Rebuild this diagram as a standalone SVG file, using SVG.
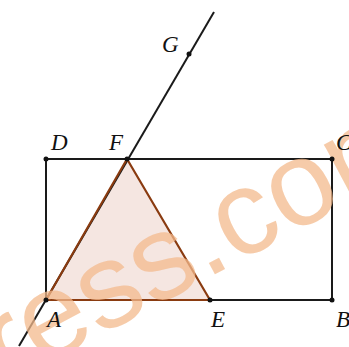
<svg xmlns="http://www.w3.org/2000/svg" width="349" height="347" viewBox="0 0 349 347">
<style>
.lbl{font-family:"Liberation Serif","DejaVu Serif",serif;font-style:italic;font-size:23px;fill:#111}
.edge{stroke:#1a1a1a;stroke-width:2;fill:none}
.pt{fill:#111}
.wm{font-family:"Liberation Sans",Arial,sans-serif;font-size:120px;fill:#f3b98c;fill-opacity:0.75}
</style>
<rect width="349" height="347" fill="#fff"/>
<g id="triangle-fill"><polygon points="46,300 127,159 210,300" fill="#f5e6e1"/></g>
<g id="connectors">
<line class="edge" x1="46" y1="159" x2="332" y2="159"/>
<line class="edge" x1="46" y1="159" x2="46" y2="300"/>
<line class="edge" x1="332" y1="159" x2="332" y2="300"/>
<line class="edge" x1="210" y1="300" x2="332" y2="300"/>
<line class="edge" x1="19" y1="346" x2="214" y2="12"/>
<polyline points="46,300 127,159 210,300 46,300" fill="none" stroke="#8a3b10" stroke-width="2.2" stroke-linejoin="round"/>
</g>
<g id="watermark"><text class="wm" transform="translate(5,386) rotate(-28)">ress.com</text></g>
<g id="A"><circle class="pt" cx="46" cy="300" r="2.5"/><text class="lbl" x="47" y="327">A</text></g>
<g id="B"><circle class="pt" cx="332" cy="300" r="2.5"/><text class="lbl" x="336" y="327">B</text></g>
<g id="C"><circle class="pt" cx="332" cy="159" r="2.5"/><text class="lbl" x="336" y="150">C</text></g>
<g id="D"><circle class="pt" cx="46" cy="159" r="2.5"/><text class="lbl" x="51" y="150">D</text></g>
<g id="E"><circle class="pt" cx="210" cy="300" r="2.5"/><text class="lbl" x="211" y="327">E</text></g>
<g id="F"><circle class="pt" cx="127" cy="159" r="2.5"/><text class="lbl" x="109" y="150">F</text></g>
<g id="G"><circle class="pt" cx="189" cy="54" r="2.5"/><text class="lbl" x="162" y="52">G</text></g>
</svg>
